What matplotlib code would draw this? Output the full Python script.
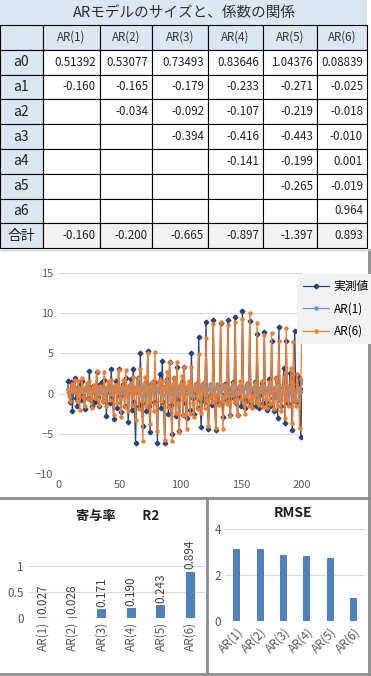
import numpy as np
import matplotlib
matplotlib.use('Agg')
import matplotlib.pyplot as plt
from matplotlib.patches import Rectangle

plt.rcParams['font.family'] = ['Noto Sans CJK JP', 'DejaVu Sans']

W, H = 371, 676

# ---- table data ----
title = 'ARモデルのサイズと、係数の関係'
models = ['AR(1)', 'AR(2)', 'AR(3)', 'AR(4)', 'AR(5)', 'AR(6)']
row_names = ['a0', 'a1', 'a2', 'a3', 'a4', 'a5', 'a6', '合計']
a0 = [0.51392, 0.53077, 0.73493, 0.83646, 1.04376, 0.08839]
coefs = [  # rows a1..a6, columns AR(1)..AR(6)
    [-0.160, -0.165, -0.179, -0.233, -0.271, -0.025],
    [None, -0.034, -0.092, -0.107, -0.219, -0.018],
    [None, None, -0.394, -0.416, -0.443, -0.010],
    [None, None, None, -0.141, -0.199, 0.001],
    [None, None, None, None, -0.265, -0.019],
    [None, None, None, None, None, 0.964],
]
totals = [-0.160, -0.200, -0.665, -0.897, -1.397, 0.893]

# ---- bar data ----
r2 = [0.027, 0.028, 0.171, 0.190, 0.243, 0.894]
rmse = [3.13, 3.12, 2.87, 2.83, 2.74, 1.00]

actual = [
    0.5, -0.3, -1.0, 0.4, 1.2, 0.2,
    1.6, 0.2, -1.0, 1.4, -2.2, 0.5,
    1.9, -0.5, -1.6, 0.8, 1.2, -0.8,
    1.6, 0.0, -1.9, 0.6, 1.0, -0.6,
    2.8, -0.8, -1.5, 0.9, 0.4, -1.0,
    2.7, -0.4, -1.6, 1.2, 1.5, -0.9,
    1.7, 0.5, -2.8, 0.3, 1.0, -1.2,
    3.0, -0.6, -3.1, 0.8, 1.6, -1.8,
    3.0, -0.3, -2.3, 0.5, 1.2, -1.5,
    2.0, 0.2, -3.5, 0.4, 1.8, -2.0,
    3.1, -1.0, -6.2, 0.3, 2.0, -1.6,
    5.1, -1.2, -4.0, 0.8, 1.3, -2.2,
    5.3, -1.5, -4.8, 1.2, 1.5, -1.0,
    1.5, 0.6, -6.1, 0.5, 2.5, -1.8,
    4.0, -1.0, -6.2, 0.9, 1.8, -2.5,
    3.9, -1.4, -5.0, 0.7, 2.0, -2.8,
    3.3, -0.8, -4.6, 1.0, 1.4, -2.6,
    3.3, -1.2, -3.0, 0.5, 1.0, -2.0,
    5.0, -0.5, -2.5, 0.2, 1.2, -1.8,
    7.0, -0.8, -4.2, -0.5, 0.8, -1.0,
    8.9, -0.6, -4.4, -0.3, 0.6, -1.4,
    9.1, -0.9, -4.5, -0.4, 0.9, -1.2,
    8.8, -1.0, -2.9, -0.2, 1.2, -0.8,
    9.2, -0.7, -2.7, 0.0, 1.5, -0.6,
    9.5, -1.2, -2.6, -0.3, 1.0, -1.5,
    10.3, -0.8, -1.8, -0.5, 1.2, -1.0,
    9.0, -1.0, -1.5, 0.3, 1.4, -1.6,
    7.4, -0.6, -1.8, 0.0, 1.3, -1.2,
    7.7, -1.1, -2.0, 0.4, 1.8, -1.5,
    6.6, -0.5, -2.2, 0.5, 1.9, -3.0,
    8.3, -0.8, -1.6, 0.6, 3.2, -3.7,
    6.5, -1.0, -1.4, 2.6, 0.6, -4.5,
    2.0, 7.8, -1.0, 0.8, 2.2, 1.5,
    -5.4, 0.5,
]

y = np.array(actual)
t = np.arange(7, 201)


def fitted(col, order):
    # fitted values of the tabulated AR model
    pred = np.full(len(t), a0[col])
    for lag in range(1, order + 1):
        pred += coefs[lag - 1][col] * y[t - 1 - lag]
    return pred


ar1 = fitted(0, 1)
ar6 = fitted(5, 6)

fig = plt.figure(figsize=(W / 100, H / 100), dpi=100)

# background layer in pixel coordinates (table + panel borders)
bg = fig.add_axes([0, 0, 1, 1])
bg.set_xlim(0, W)
bg.set_ylim(H, 0)
bg.axis('off')

blue_bg = '#DCE6F1'
xs = [0, 43, 100, 152, 208, 263, 317, 367]
ys = [0, 25] + [25 + 24.8 * (i + 1) for i in range(9)]

bg.add_patch(Rectangle((0, 0), 367, 25, facecolor=blue_bg, edgecolor='none'))
bg.text(184, 12.5, title, ha='center', va='center', fontsize=10.5, color='#303030')

for r in range(9):
    y0, y1 = ys[r + 1], ys[r + 2]
    for c in range(7):
        x0, x1 = xs[c], xs[c + 1]
        if c == 0 or r == 0:
            fc = blue_bg
        elif r == 8:
            fc = '#F2F2F2'
        else:
            fc = 'white'
        bg.add_patch(Rectangle((x0, y0), x1 - x0, y1 - y0, facecolor=fc,
                               edgecolor='black', linewidth=0.8))
    ym = (y0 + y1) / 2
    if r == 0:
        for c, m in enumerate(models):
            bg.text((xs[c + 1] + xs[c + 2]) / 2, ym, m, ha='center', va='center',
                    fontsize=8.3, color='#333333')
        continue
    name = row_names[r - 1]
    bg.text(21, ym, name, ha='center', va='center', fontsize=10, color='#222222')
    for c in range(6):
        if r == 1:
            s = f'{a0[c]:.5f}'
        elif r == 8:
            s = f'{totals[c]:.3f}'
        else:
            v = coefs[r - 2][c]
            if v is None:
                continue
            s = f'{v:.3f}'
        bg.text(xs[c + 2] - 4, ym, s, ha='right', va='center', fontsize=8.3,
                color='#222222')

# panel borders
border = '#8C8C8C'
bg.plot([0, 369], [498, 498], color=border, lw=2)
bg.plot([369, 369], [250, 676], color=border, lw=2)
bg.plot([207, 207], [498, 676], color=border, lw=2)
bg.plot([0, 369], [674, 674], color=border, lw=2)
bg.plot([0, 369], [250, 250], color='#D0D0D0', lw=1)

grid_c = '#D9D9D9'
tick_c = '#595959'

# ---- line chart ----
ax = fig.add_axes([59 / W, 1 - 474 / H, 243 / W, 201 / H])
ax.set_facecolor('none')
ax.plot(t, y[t - 1], color='#264478', lw=0.9, marker='D', ms=2.4, label='実測値', zorder=3)
ax.plot(t, ar1, color='#5B9BD5', lw=0.9, marker='o', ms=2.2, label='AR(1)', zorder=4)
ax.plot(t, ar6, color='#ED7D31', lw=0.9, marker='o', ms=2.2, label='AR(6)', zorder=5)
ax.set_xlim(0, 200)
ax.set_ylim(-10, 15)
ax.set_xticks(range(0, 201, 50))
ax.set_yticks(range(-10, 16, 5))
ax.grid(axis='y', color=grid_c, lw=0.8)
ax.set_axisbelow(True)
for s in ax.spines.values():
    s.set_visible(False)
ax.tick_params(length=0, labelsize=8, colors=tick_c, pad=4)
leg = fig.legend(handles=ax.get_lines(), loc='upper left',
                 bbox_to_anchor=(291 / W, 1 - 268 / H), fontsize=8.5,
                 frameon=True, fancybox=False, handlelength=2.2,
                 borderpad=0.5, labelspacing=0.8, handletextpad=0.4)
leg.get_frame().set_facecolor('#F2F2F2')
leg.get_frame().set_edgecolor('none')
leg.get_frame().set_alpha(1)

bar_c = '#4F81BD'
xpos = np.arange(len(models))

# ---- R2 bars ----
ax2 = fig.add_axes([28 / W, 1 - 618 / H, 177 / W, 52 / H])
ax2.set_facecolor('none')
ax2.bar(xpos, r2, width=0.3, color=bar_c, zorder=3)
for i, v in enumerate(r2):
    ax2.text(i, v + 0.05, f'{v:.3f}', rotation=90, ha='center', va='bottom',
             fontsize=8.5, color='#404040', clip_on=False)
ax2.set_xlim(-0.5, 5.5)
ax2.set_ylim(0, 1)
ax2.set_yticks([0, 0.5, 1])
ax2.set_yticklabels(['0', '0.5', '1'])
ax2.set_xticks(xpos)
ax2.set_xticklabels(models, rotation=90)
ax2.grid(axis='y', color=grid_c, lw=0.8)
ax2.set_axisbelow(True)
for s in ax2.spines.values():
    s.set_visible(False)
ax2.tick_params(length=0, labelsize=8.5, colors=tick_c, pad=3)
fig.text(118 / W, 1 - 516 / H, '寄与率　　R2', ha='center', va='center',
         fontsize=9.5, fontweight='bold', color='#202020')

# ---- RMSE bars ----
ax3 = fig.add_axes([225 / W, 1 - 621 / H, 140 / W, 92 / H])
ax3.set_facecolor('none')
ax3.bar(xpos, rmse, width=0.3, color=bar_c, zorder=3)
ax3.set_xlim(-0.5, 5.5)
ax3.set_ylim(0, 4)
ax3.set_yticks([0, 2, 4])
ax3.set_xticks(xpos)
ax3.set_xticklabels(models, rotation=45, ha='right', rotation_mode='anchor')
ax3.grid(axis='y', color=grid_c, lw=0.8)
ax3.set_axisbelow(True)
for s in ax3.spines.values():
    s.set_visible(False)
ax3.tick_params(length=0, labelsize=8.5, colors=tick_c, pad=3)
fig.text(293 / W, 1 - 513 / H, 'RMSE', ha='center', va='center',
         fontsize=10, fontweight='bold', color='#202020')

fig.savefig('out.png', dpi=100)
